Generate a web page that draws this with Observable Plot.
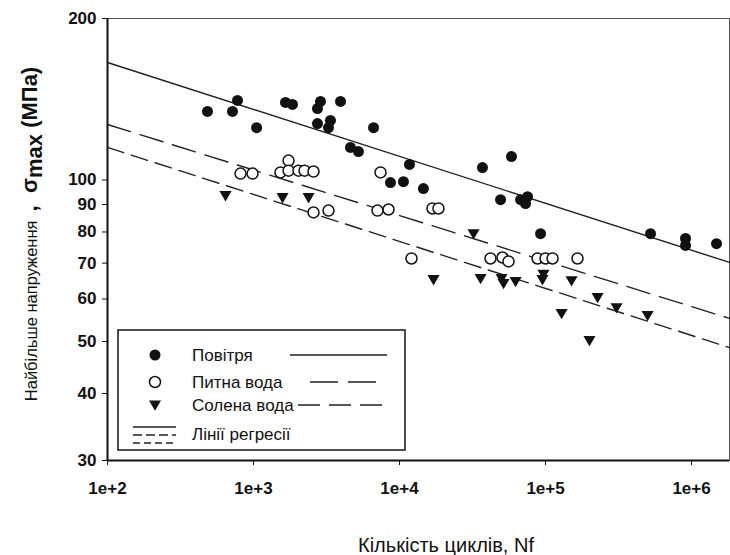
<!DOCTYPE html>
<html><head><meta charset="utf-8">
<script src="https://cdn.jsdelivr.net/npm/d3@7"></script>
<script src="https://cdn.jsdelivr.net/npm/@observablehq/plot@0.6"></script>
<style>body{margin:0;background:#fff}</style>
</head><body><div id="chart"></div>
<script>
// Повітря (air)
const airCycles = [484, 718, 777, 1050, 1656, 1849, 2875, 2742, 3945, 2742, 3366, 3263, 4614, 5233, 6640, 11700, 8670, 10640, 14580, 36990, 58460, 49200, 67450, 75330, 72950, 92480, 523900, 909500, 909500, 1483000];
const airStress = [134.2, 134.2, 140.7, 125.2, 139.5, 138.3, 140.1, 135.9, 140.1, 127.4, 129.1, 125.2, 115.0, 113.0, 125.2, 106.9, 98.9, 99.3, 96.4, 105.5, 110.6, 91.9, 91.9, 93.1, 90.4, 79.4, 79.4, 77.8, 75.5, 76.1];
// Питна вода (drinking water)
const drinkCycles = [815, 985, 1530, 1738, 1738, 2034, 2236, 2576, 2576, 3263, 7413, 7063, 8410, 16810, 18480, 12080, 41980, 50720, 55800, 88130, 100000, 111700, 165600];
const drinkStress = [102.8, 102.8, 103.3, 108.7, 104.1, 104.1, 104.1, 103.7, 87.0, 87.7, 103.3, 87.7, 88.1, 88.5, 88.5, 71.4, 71.4, 71.7, 70.5, 71.4, 71.4, 71.4, 71.4];
// Солена вода (salt water)
const saltCycles = [643, 1581, 2382, 17100, 32140, 35900, 50000, 51570, 62330, 96830, 95330, 150700, 128800, 227200, 306300, 500000, 200000];
const saltStress = [93.5, 92.7, 92.7, 65.2, 79.4, 65.5, 65.5, 64.1, 64.7, 66.7, 65.2, 64.9, 56.4, 60.4, 57.8, 55.9, 50.2];
// Лінії регресії (regression lines, end values)
const lineCycles = [100, 1820000];
const airLine = [165.6, 70.2];
const drinkLine = [126.9, 55.2];
const saltLine = [115.0, 48.7];
// Axes
const xTicks = [1e2, 1e3, 1e4, 1e5, 1e6];
const yTicks = [30, 40, 50, 60, 70, 80, 90, 100, 200];
const legendLabels = ["Повітря", "Питна вода", "Солена вода", "Лінії регресії"];
const xLabel = "Кількість циклів, Nf";

const pts = (xs, ys) => xs.map((x, i) => ({x, y: ys[i]}));
const triDown = {
  draw(ctx, size) {
    const r = Math.sqrt(size / Math.PI) * 1.1;
    ctx.moveTo(0, r * 0.95);
    ctx.lineTo(-r, -r * 0.75);
    ctx.lineTo(r, -r * 0.75);
    ctx.closePath();
  }
};
const ink = "#111";
const font = "'Liberation Sans', Arial, sans-serif";
const R = 5.5;

const chart = Plot.plot({
  width: 730, height: 555,
  marginTop: 18, marginBottom: 95, marginLeft: 107, marginRight: 1,
  style: {fontFamily: font, background: "#fff", color: ink},
  x: {type: "log", domain: [100, 1820000]},
  y: {type: "log", domain: [30, 200]},
  marks: [
    Plot.frame({stroke: "#555", strokeWidth: 1}),
    Plot.axisY({ticks: yTicks, tickFormat: d => String(d), tickSize: 5, tickPadding: 6, fontSize: 17, fontWeight: "bold", label: null, stroke: ink}),
    Plot.axisX({ticks: xTicks, tickFormat: d3.format(".0e"), tickSize: 5, tickPadding: 16, fontSize: 17, fontWeight: "bold", label: null, stroke: ink}),
    Plot.ruleX([100], {stroke: ink, strokeWidth: 2}),
    Plot.ruleY([30], {stroke: ink, strokeWidth: 2}),
    Plot.line(pts(lineCycles, airLine), {x: "x", y: "y", stroke: "#222", strokeWidth: 1.4}),
    Plot.line(pts(lineCycles, drinkLine), {x: "x", y: "y", stroke: "#222", strokeWidth: 1.4, strokeDasharray: "24,10"}),
    Plot.line(pts(lineCycles, saltLine), {x: "x", y: "y", stroke: "#222", strokeWidth: 1.4, strokeDasharray: "17,8"}),
    Plot.dot(pts(airCycles, airStress), {x: "x", y: "y", r: R, fill: ink, stroke: "none"}),
    Plot.dot(pts(drinkCycles, drinkStress), {x: "x", y: "y", r: R, fill: "#fff", stroke: ink, strokeWidth: 1.5}),
    Plot.dot(pts(saltCycles, saltStress), {x: "x", y: "y", r: R, symbol: triDown, fill: ink, stroke: "none"})
  ]
});
document.getElementById("chart").appendChild(chart);

const svg = d3.select(chart);
// Y axis label
const yl = svg.append("text")
  .attr("transform", "translate(37,234) rotate(-90)")
  .attr("text-anchor", "middle")
  .attr("fill", ink)
  .style("font-family", font);
yl.append("tspan").attr("font-size", 16.5).text("Найбільше напруження  ");
yl.append("tspan").attr("font-size", 22).attr("font-weight", "bold").text(",  σ");
yl.append("tspan").attr("font-size", 22).attr("font-weight", "bold").attr("dy", 5).text("max");
yl.append("tspan").attr("font-size", 22).attr("font-weight", "bold").attr("dy", -5).text(" (МПа)");

// X axis label
svg.append("text").attr("x", 446).attr("y", 552).attr("text-anchor", "middle")
  .attr("font-size", 20).attr("fill", ink).style("font-family", font).text(xLabel);

// Legend
const lg = svg.append("g").style("font-family", font).attr("text-anchor", "start");
lg.append("rect").attr("x", 118).attr("y", 330).attr("width", 287).attr("height", 120)
  .attr("fill", "#fff").attr("stroke", "#222").attr("stroke-width", 1.6);
const rows = [355, 382, 405];
const symArea = Math.PI * R * R;
lg.append("circle").attr("cx", 155).attr("cy", rows[0]).attr("r", R).attr("fill", ink);
lg.append("circle").attr("cx", 155).attr("cy", rows[1]).attr("r", R).attr("fill", "#fff").attr("stroke", ink).attr("stroke-width", 1.5);
lg.append("path").attr("transform", `translate(155,${rows[2]})`).attr("d", d3.symbol(triDown, symArea)()).attr("fill", ink);
const dashes = [null, "28,10", "22,9"];
const lx = [[290, 387], [310, 383], [298, 387]];
rows.forEach((y, i) => {
  lg.append("text").attr("x", 192).attr("y", y + 6).attr("font-size", 17).attr("fill", ink)
    .attr("text-anchor", "start").text(legendLabels[i]);
  const l = lg.append("line").attr("x1", lx[i][0]).attr("x2", lx[i][1]).attr("y1", y).attr("y2", y)
    .attr("stroke", "#222").attr("stroke-width", 1.6);
  if (dashes[i]) l.attr("stroke-dasharray", dashes[i]);
});
[[427, null], [435, "9,4"], [443, "7,4"]].forEach(([y, d]) => {
  const l = lg.append("line").attr("x1", 133).attr("x2", 176).attr("y1", y).attr("y2", y)
    .attr("stroke", "#222").attr("stroke-width", 1.6);
  if (d) l.attr("stroke-dasharray", d);
});
lg.append("text").attr("x", 192).attr("y", 440).attr("font-size", 17).attr("fill", ink)
  .attr("text-anchor", "start").text(legendLabels[3]);
</script>
</body></html>
